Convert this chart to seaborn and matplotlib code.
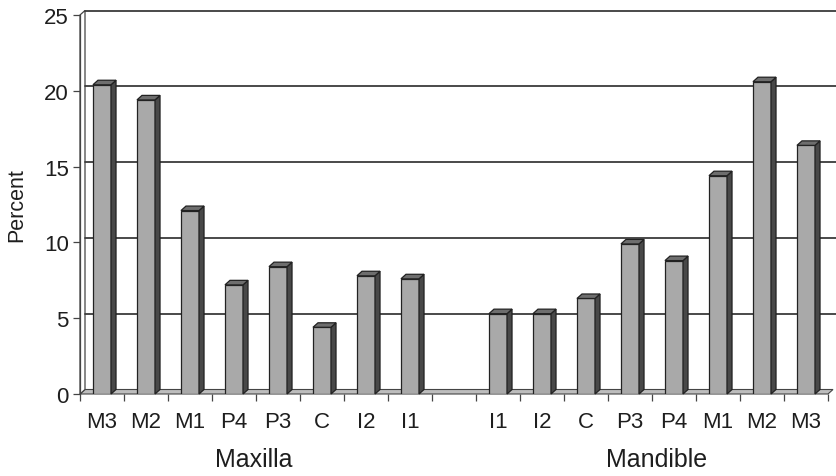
import numpy as np
import pandas as pd
import seaborn as sns
import matplotlib
matplotlib.use("Agg")
import matplotlib.pyplot as plt
from matplotlib.patches import Polygon, Rectangle

# Tooth categories for each jaw and their percentages
maxilla_teeth = ["M3", "M2", "M1", "P4", "P3", "C", "I2", "I1"]
maxilla_pct = [20.4, 19.4, 12.1, 7.2, 8.4, 4.4, 7.8, 7.6]
mandible_teeth = ["I1", "I2", "C", "P3", "P4", "M1", "M2", "M3"]
mandible_pct = [5.3, 5.3, 6.3, 9.9, 8.8, 14.4, 20.6, 16.4]
group_names = ["Maxilla", "Mandible"]
y_ticks = [0, 5, 10, 15, 20, 25]

# One slot per tooth, with an empty slot between the two jaws
keys = [f"max_{t}" for t in maxilla_teeth] + ["gap"] + [f"man_{t}" for t in mandible_teeth]
labels = maxilla_teeth + [""] + mandible_teeth
values = maxilla_pct + [np.nan] + mandible_pct
df = pd.DataFrame({"slot": keys, "pct": values})

sns.set_theme(style="white")
plt.rcParams["font.family"] = ["Liberation Sans", "DejaVu Sans"]

W, H = 836, 477
fig = plt.figure(figsize=(W / 100, H / 100), dpi=100)
left_px, right_px, top_px, bottom_px = 80, 828, 16, 395
ax = fig.add_axes([left_px / W, 1 - bottom_px / H,
                   (right_px - left_px) / W, (bottom_px - top_px) / H])

front = "#a9a9a9"
side = "#484848"
top = "#6e6e6e"
text_col = "#1e1e1e"

sns.barplot(data=df, x="slot", y="pct", order=keys, ax=ax, color=front,
            saturation=1, width=0.41, edgecolor="#222222", linewidth=0.9,
            errorbar=None, zorder=3)

ax.set_xlim(-0.5, len(keys) - 0.5)
ax.set_ylim(0, 25)

# Depth offset of the 3-D look, in pixels converted to data units
dpx, dpy = 5.0, 4.5
ux = len(keys) / (right_px - left_px)
uy = 25 / (bottom_px - top_px)
ddx, ddy = dpx * ux, dpy * uy

x0, x1 = -0.5, len(keys) - 0.5
wall_kw = dict(clip_on=False, zorder=0.5)
# Floor
ax.add_patch(Polygon([(x0, 0), (x1, 0), (x1 + ddx, ddy), (x0 + ddx, ddy)],
                     closed=True, facecolor="#bdbdbd", edgecolor="#444444",
                     linewidth=0.8, **wall_kw))
# Left side wall
ax.add_patch(Polygon([(x0, 0), (x0, 25), (x0 + ddx, 25 + ddy), (x0 + ddx, ddy)],
                     closed=True, facecolor="white", edgecolor="#444444",
                     linewidth=0.9, **wall_kw))
# Back-wall gridlines and top border
for yv in y_ticks[1:]:
    ax.plot([x0 + ddx, x1 + ddx + 0.2], [yv + ddy, yv + ddy], color="#3a3a3a",
            linewidth=1.3, clip_on=False, zorder=1)

# Side and top faces of each column
for p in list(ax.patches):
    if not isinstance(p, Rectangle):
        continue
    h = p.get_height()
    if not np.isfinite(h) or h <= 0:
        continue
    bx, bw = p.get_x(), p.get_width()
    xr = bx + bw
    ax.add_patch(Polygon([(xr, 0), (xr, h), (xr + ddx, h + ddy), (xr + ddx, ddy)],
                         closed=True, facecolor=side, edgecolor="#222222",
                         linewidth=0.9, zorder=3, clip_on=False))
    ax.add_patch(Polygon([(bx, h), (xr, h), (xr + ddx, h + ddy), (bx + ddx, h + ddy)],
                         closed=True, facecolor=top, edgecolor="#222222",
                         linewidth=0.9, zorder=3, clip_on=False))

for s in ["top", "right", "bottom"]:
    ax.spines[s].set_visible(False)
ax.spines["left"].set_color("#444444")
ax.spines["left"].set_linewidth(0.9)

ax.set_yticks(y_ticks)
ax.set_yticklabels([str(v) for v in y_ticks], fontsize=16, color=text_col)
ax.tick_params(axis="y", length=5, width=0.9, color="#444444", pad=3, left=True)

# Tick marks at slot boundaries, labels at slot centres
ax.set_xticks(np.arange(-0.5, len(keys)), minor=False)
ax.set_xticklabels([])
ax.set_xticks(np.arange(len(keys)), minor=True)
ax.set_xticklabels(labels, minor=True, fontsize=16, color=text_col)
ax.tick_params(axis="x", which="major", length=5, width=0.9, color="#444444",
               bottom=True, direction="out")
ax.tick_params(axis="x", which="minor", length=0, pad=12)

ax.set_xlabel("")
ax.set_ylabel("Percent", fontsize=15.5, color=text_col, labelpad=12)

for name, xc in zip(group_names, [3.45, 12.6]):
    ax.text(xc, -0.172, name, transform=ax.get_xaxis_transform(),
            ha="center", va="center", fontsize=18, color=text_col)

fig.savefig("out.png", dpi=100, facecolor="white")
